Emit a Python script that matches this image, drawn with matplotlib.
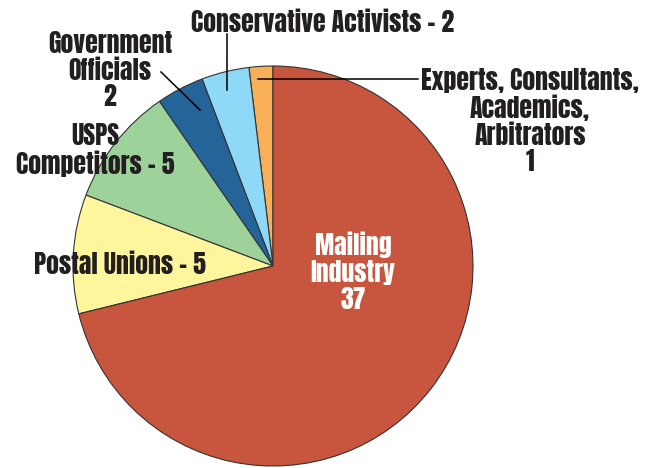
import matplotlib
matplotlib.use("Agg")
import matplotlib.pyplot as plt

# slice data, counter-clockwise from the top
groups = ["Experts, Consultants,\nAcademics,\nArbitrators\n1",
          "Conservative Activists - 2",
          "Government\nOfficials\n2",
          "USPS\nCompetitors - 5",
          "Postal Unions - 5",
          "Mailing\nIndustry\n37"]
counts = [1, 2, 2, 5, 5, 37]
colors = ["#F9AE58", "#8ED8F8", "#246498", "#9DD39B", "#FFF59C", "#C8553D"]

plt.rcParams['font.family'] = ['Anton', 'DejaVu Sans']

fig = plt.figure(figsize=(6.52, 4.68), dpi=100)
W, H = 652, 468
cx, cy, r = 273, 266, 200
ax = fig.add_axes([(cx - r) / W, (H - cy - r) / H, 2 * r / W, 2 * r / H])
ax.pie(counts, colors=colors, startangle=90, counterclock=True,
       wedgeprops=dict(edgecolor="#333333", linewidth=0.8))
ax.set_xlim(-1, 1)
ax.set_ylim(-1, 1)


def px(x, y):
    # convert picture pixels to data coords of the pie axes
    return (x - cx) / r, (cy - y) / r


def label(x, y, s, color="#231f20", size=18.5):
    tx, ty = px(x, y)
    ax.text(tx, ty, s, ha="center", va="center", fontsize=size,
            color=color, linespacing=1.08)


def leader(x0, y0, x1, y1):
    a, b = px(x0, y0)
    c, d = px(x1, y1)
    ax.plot([a, c], [b, d], color="black", lw=1.1, clip_on=False)


label(530, 121, groups[0])
label(323, 22, groups[1])
label(110, 70, groups[2])
label(95, 150, groups[3])
label(120, 264, groups[4])
label(353, 272, groups[5], color="white")

leader(258, 79, 418, 79)
leader(227, 34, 227, 90)
leader(161, 72, 200, 110)

fig.savefig("out.png", dpi=100)
